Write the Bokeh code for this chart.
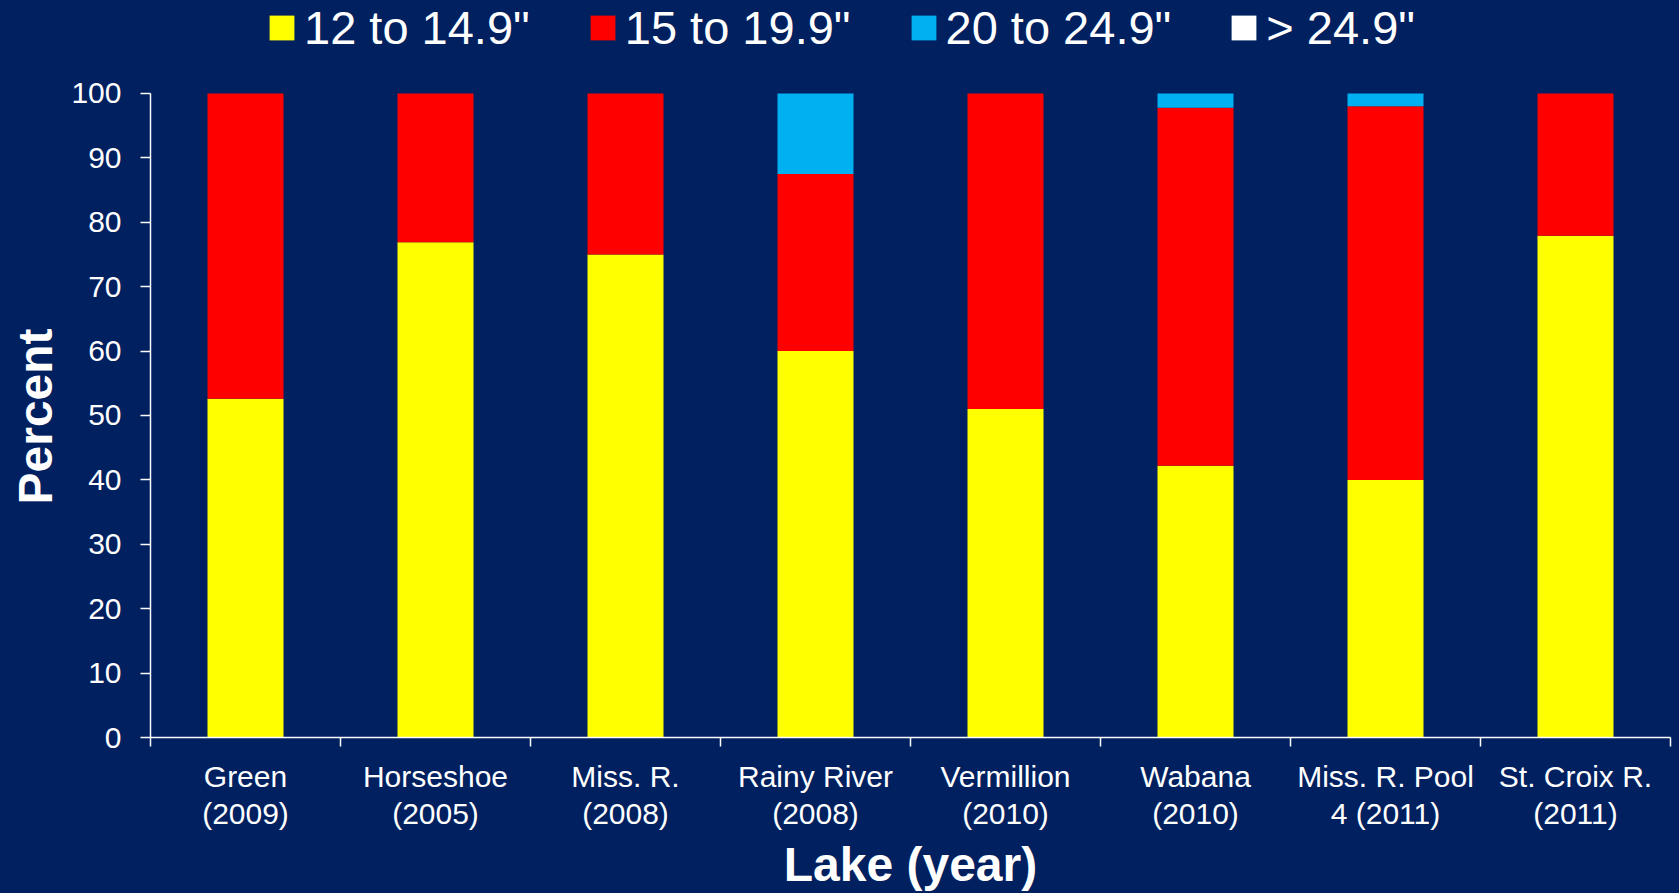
from bokeh.plotting import figure
from bokeh.models import Range1d, FixedTicker, Legend, LegendItem, ColumnDataSource, Title
from bokeh.embed import file_html
from bokeh.resources import INLINE

# ---- data ----
lakes = ["Green\n(2009)", "Horseshoe\n(2005)", "Miss. R.\n(2008)", "Rainy River\n(2008)",
         "Vermillion\n(2010)", "Wabana\n(2010)", "Miss. R. Pool\n4 (2011)", "St. Croix R.\n(2011)"]
len_12_to_149 = [52.6, 76.9, 75.0, 60.0, 51.0, 42.2, 40.0, 77.9]
len_15_to_199 = [47.4, 23.1, 25.0, 27.5, 49.0, 55.6, 58.0, 22.1]
len_20_to_249 = [0.0, 0.0, 0.0, 12.5, 0.0, 2.2, 2.0, 0.0]
len_over_249 = [0.0, 0.0, 0.0, 0.0, 0.0, 0.0, 0.0, 0.0]
series_labels = ['12 to 14.9"', '15 to 19.9"', '20 to 24.9"', '> 24.9"']
series_colors = ["#FFFF00", "#FF0000", "#00B0F0", "#FFFFFF"]
y_ticks = [0, 10, 20, 30, 40, 50, 60, 70, 80, 90, 100]

BG = "#002060"
FONT = "Liberation Sans"
n = len(lakes)
x_centers = [i + 0.5 for i in range(n)]
x_bounds = list(range(n + 1))

source = ColumnDataSource(dict(x=x_centers, s1=len_12_to_149, s2=len_15_to_199,
                               s3=len_20_to_249, s4=len_over_249))

# frame spans to the top of the page so the legend (drawn inside) is not clipped;
# the y axis line is bounded to 0..100
p = figure(width=1679, height=893, x_range=Range1d(0, n), y_range=Range1d(0, 114.44),
           output_backend="svg", toolbar_location=None,
           min_border_left=150, min_border_right=9, min_border_top=0, min_border_bottom=156,
           background_fill_color=BG, border_fill_color=BG)
p.outline_line_color = None
p.xgrid.visible = False
p.ygrid.visible = False

renderers = p.vbar_stack(["s1", "s2", "s3", "s4"], x="x", width=0.4, source=source,
                         fill_color=series_colors, line_color=None)

# x axis: ticks at category boundaries, labels at centers
xa = p.xaxis[0]
xa.ticker = FixedTicker(ticks=x_centers, minor_ticks=x_bounds)
xa.major_label_overrides = {xc: lab for xc, lab in zip(x_centers, lakes)}
xa.major_tick_out = 0
xa.major_tick_in = 0
xa.minor_tick_out = 9
xa.minor_tick_in = 0
xa.minor_tick_line_color = "white"
xa.minor_tick_line_width = 1.5
xa.axis_line_color = "white"
xa.axis_line_width = 1.5
xa.major_label_text_color = "white"
xa.major_label_text_font = FONT
xa.major_label_text_font_size = "30px"
xa.major_label_text_line_height = 1.13
xa.major_label_standoff = 13
xa.axis_label = "Lake (year)"
xa.axis_label_text_color = "white"
xa.axis_label_text_font = FONT
xa.axis_label_text_font_size = "48px"
xa.axis_label_text_font_style = "bold"
xa.axis_label_standoff = 5

ya = p.yaxis[0]
ya.ticker = FixedTicker(ticks=y_ticks)
ya.bounds = (0, 100)
ya.major_tick_out = 10
ya.major_tick_in = 0
ya.minor_tick_out = 0
ya.minor_tick_in = 0
ya.major_tick_line_color = "white"
ya.major_tick_line_width = 1.5
ya.axis_line_color = "white"
ya.axis_line_width = 1.5
ya.major_label_text_color = "white"
ya.major_label_text_font = FONT
ya.major_label_text_font_size = "30px"
ya.major_label_standoff = 19

# y axis title, placed along the 0..100 span of the axis
p.add_layout(Title(text="Percent", align="left", offset=233, standoff=13,
                   text_color="white", text_font=FONT, text_font_size="48px",
                   text_font_style="bold"), "left")

legend = Legend(items=[LegendItem(label=lab, renderers=[r]) for lab, r in zip(series_labels, renderers)],
                location=(116, 682), orientation="horizontal",
                glyph_width=31, glyph_height=31, label_standoff=7, spacing=57, padding=0, margin=0,
                label_text_font=FONT, label_text_font_size="47px", label_text_color="white",
                background_fill_alpha=0, border_line_color=None)
p.add_layout(legend)

html = file_html(p, INLINE)
html = html.replace("<head>", "<head><style>html,body{margin:0;padding:0;background:#002060;overflow:hidden;}</style>", 1)
open("out.html", "w").write(html)
